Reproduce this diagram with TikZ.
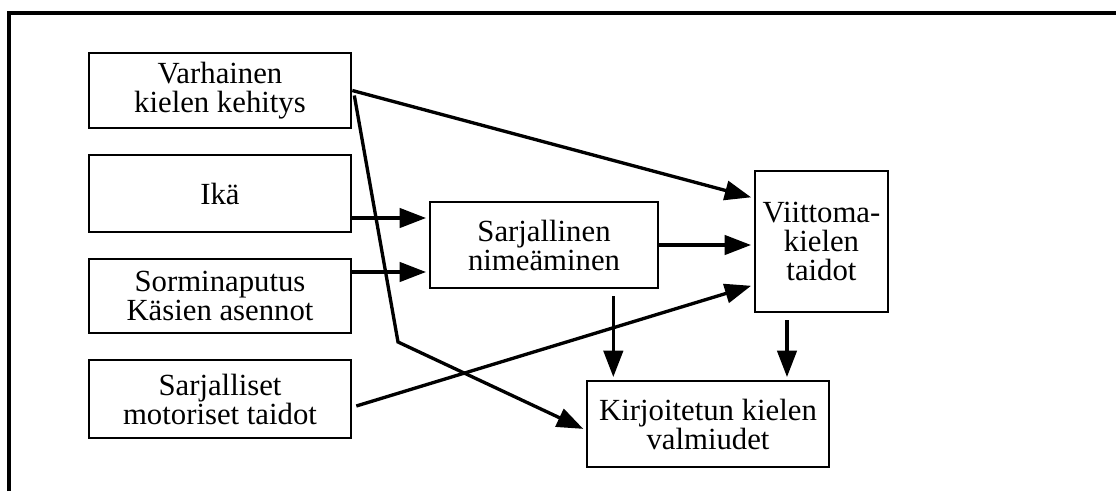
\documentclass[tikz,border=0pt]{standalone}
\usepackage{fontspec}
\setmainfont{Liberation Serif}
\usepackage{tikz}
\usetikzlibrary{arrows.meta, calc}
\tikzset{
  box/.style={draw=black, line width=1.5pt, align=center, inner sep=2pt,
              font=\fontsize{17.5}{16.5}\selectfont, fill=white},
  flow/.style={-{Triangle[length=15pt, width=11pt]}, line width=1.9pt,
               shorten >=1.5pt},
  frame/.style={line width=1.8pt},
}

\begin{document}
\begin{tikzpicture}[x=0.02cm, y=-0.02cm]
  \useasboundingbox (0,0) rectangle (1116,491);
  \draw[frame] (9,491) -- (9,13) -- (1116,13);

  \node[box, minimum width=262*0.02cm, minimum height=75*0.02cm] (vark) at (220,90.5) {Varhainen\\ kielen kehitys};
  \node[box, minimum width=262*0.02cm, minimum height=77*0.02cm] (ika) at (220,193.5) {Ikä};
  \node[box, minimum width=262*0.02cm, minimum height=74*0.02cm] (sormi) at (220,296) {Sorminaputus\\ Käsien asennot};
  \node[box, minimum width=262*0.02cm, minimum height=78*0.02cm] (motor) at (220,399) {Sarjalliset\\ motoriset taidot};
  \node[box, minimum width=228*0.02cm, minimum height=86*0.02cm] (nimea) at (544,245) {Sarjallinen\\ nimeäminen};
  \node[box, minimum width=133*0.02cm, minimum height=141*0.02cm] (viitto) at (821.5,241.5) {Viittoma-\\ kielen\\ taidot};
  \node[box, minimum width=242*0.02cm, minimum height=86*0.02cm] (kirjo) at (708,424) {Kirjoitetun kielen\\ valmiudet};

  \coordinate (ikain) at ($(nimea.west)+(0,-27)$);
  \coordinate (sormiin) at ($(nimea.west)+(0,27)$);
  \coordinate (viittoyla) at ($(viitto.west)+(0,-43.5)$);
  \coordinate (viittoala) at ($(viitto.west)+(0,43.5)$);
  \coordinate (kirjoin) at ($(kirjo.west)+(0,6)$);
  \coordinate (taite) at (398,342);
  \coordinate (nimeaout) at ($(nimea.south east)+(-46,0)$);
  \coordinate (viittoout) at ($(viitto.south)+(-34.5,0)$);

  \draw[flow] (vark.east) -- (viittoyla);
  \draw[flow] ($(vark.east)+(2,5)$) -- (taite) -- (kirjoin);
  \draw[flow] (ika.east |- ikain) -- (ikain);
  \draw[flow] (sormi.east |- sormiin) -- (sormiin);
  \draw[flow] (nimea.east) -- (nimea.east -| viitto.west);
  \draw[flow] ($(motor.east)+(4,7)$) -- (viittoala);
  \draw[flow, shorten <=4pt] (nimeaout) -- (nimeaout |- kirjo.north);
  \draw[flow, shorten <=4pt] (viittoout) -- (viittoout |- kirjo.north);
\end{tikzpicture}
\end{document}
